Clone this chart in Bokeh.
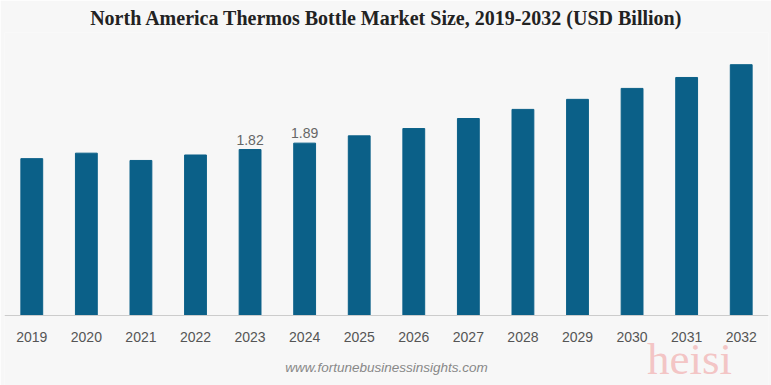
from bokeh.plotting import figure
from bokeh.models import ColumnDataSource, LabelSet, Label, Range1d
from bokeh.core.properties import value
from bokeh.embed import file_html
from bokeh.resources import INLINE

years = ["2019", "2020", "2021", "2022", "2023", "2024", "2025",
         "2026", "2027", "2028", "2029", "2030", "2031", "2032"]
values = [1.72, 1.78, 1.70, 1.76, 1.82, 1.89, 1.97,
          2.05, 2.16, 2.26, 2.37, 2.49, 2.61, 2.75]
labeled_years = ["2023", "2024"]

title_text = "North America Thermos Bottle Market Size, 2019-2032 (USD Billion)"
source_text = "www.fortunebusinessinsights.com"
watermark_text = "heisi"

BG = "#f7f7f7"
BAR = "#0b6088"

labels = [f"{v:.2f}" if y in labeled_years else "" for y, v in zip(years, values)]
src = ColumnDataSource(data=dict(year=years, value=values, label=labels))

p = figure(x_range=years, y_range=Range1d(-0.7675, 3.1031), width=771, height=385,
           output_backend="svg", toolbar_location=None,
           min_border_left=4, min_border_right=3, min_border_top=32, min_border_bottom=0)

p.vbar(x="year", top="value", bottom=0, width=0.4, source=src, color=BAR)

p.add_layout(LabelSet(x="year", y="value", text="label", source=src,
                      text_align="center", text_baseline="bottom", y_offset=5,
                      text_font=value("Liberation Sans"), text_font_size="14px",
                      text_color="#666666"))

p.title.text = title_text
p.title.align = "center"
p.title.standoff = 8
p.title.text_font = "Liberation Serif"
p.title.text_font_size = "20px"
p.title.text_font_style = "bold"
p.title.text_color = "#222222"

p.background_fill_color = BG
p.border_fill_color = BG
p.outline_line_color = None
p.grid.grid_line_color = None
p.yaxis.visible = False

p.xaxis.fixed_location = 0
p.xaxis.axis_line_color = "#cccccc"
p.xaxis.major_tick_line_color = None
p.xaxis.minor_tick_line_color = None
p.xaxis.major_label_text_font = "Liberation Sans"
p.xaxis.major_label_text_font_size = "14px"
p.xaxis.major_label_text_color = "#555555"
p.xaxis.major_label_standoff = 10

p.add_layout(Label(x=382, y=-0.570, x_units="screen", y_units="data", text=source_text,
                   text_align="center", text_baseline="middle",
                   text_font="Liberation Sans", text_font_style="italic",
                   text_font_size="13.5px", text_color="#888888"))

p.add_layout(Label(x=685, y=-0.4715, x_units="screen", y_units="data", text=watermark_text,
                   text_align="center", text_baseline="middle",
                   text_font="Liberation Serif", text_font_size="45px",
                   text_color="#f2b8b8", text_alpha=0.8))

open("out.html", "w").write(file_html(p, INLINE))
